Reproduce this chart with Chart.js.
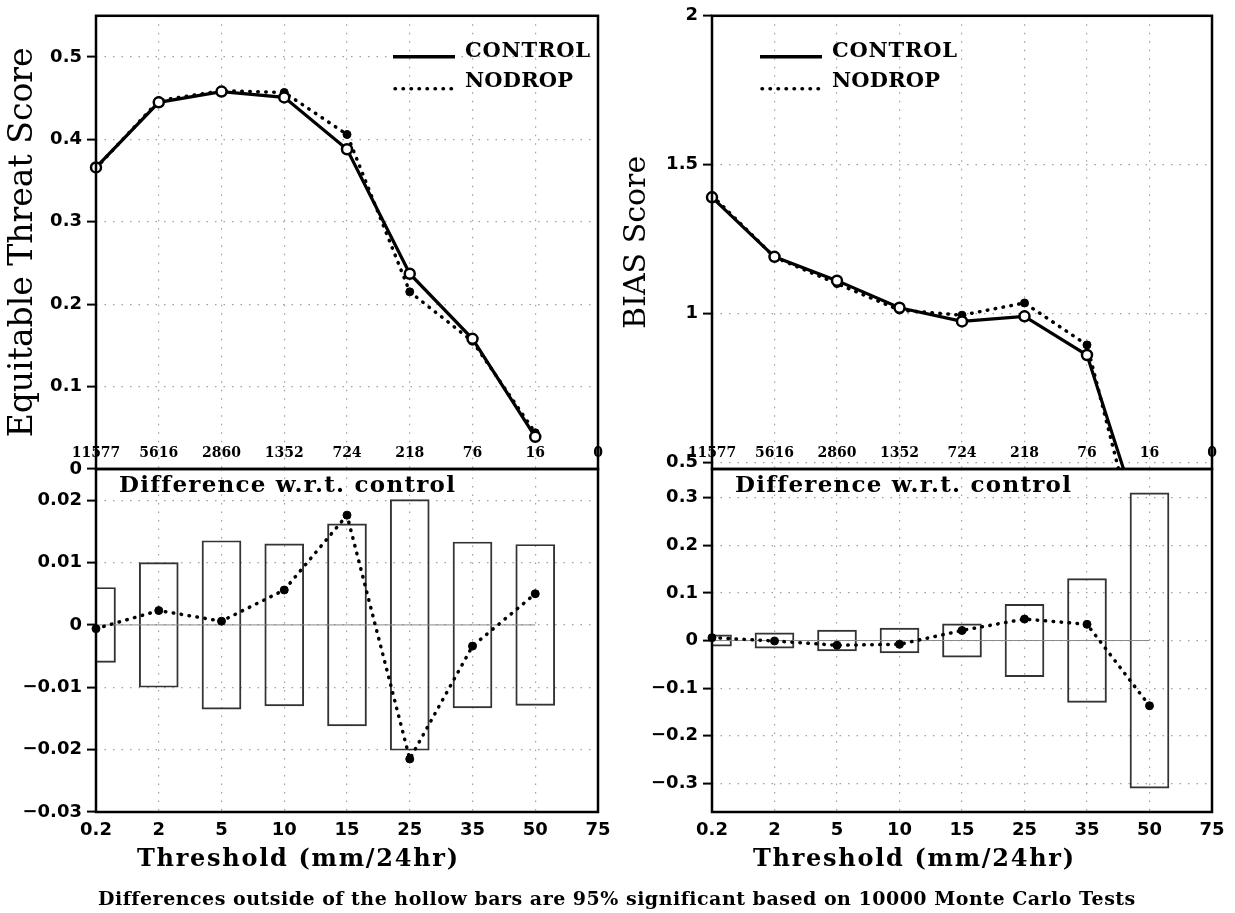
<!DOCTYPE html>
<html>
<head>
<meta charset="utf-8">
<title>ETS and BIAS: CONTROL vs NODROP</title>
<script src="https://cdn.jsdelivr.net/npm/chart.js@4"></script>
<style>
    body { margin: 0; background: #fff; }
    #page { position: relative; width: 1235px; height: 913px; overflow: hidden; background: #fff; }
    .panel { position: absolute; left: 0; top: 0; width: 1235px; height: 913px; }
    #footnote { position: absolute; left: 98px; top: 885px; font: bold 19px "DejaVu Serif"; line-height: 26px; white-space: nowrap; color: #000; }
</style>
</head>
<body>
<div id="page">
    <div class="panel"><canvas id="etsChart"></canvas></div>
    <div class="panel"><canvas id="etsDiffChart"></canvas></div>
    <div class="panel"><canvas id="biasChart"></canvas></div>
    <div class="panel"><canvas id="biasDiffChart"></canvas></div>
    <span id="footnote">Differences outside of the hollow bars are 95% significant based on 10000 Monte Carlo Tests</span>
</div>
<script>
// thresholds (mm/24hr) and number of observed points above each one
const thresholds = ['0.2', '2', '5', '10', '15', '25', '35', '50', '75'];
const obsCounts = ['11577', '5616', '2860', '1352', '724', '218', '76', '16', '0'];

// equitable threat score
const etsControl = [0.366, 0.445, 0.458, 0.451, 0.388, 0.237, 0.158, 0.039];
const etsNodrop = [0.365, 0.447, 0.459, 0.457, 0.406, 0.215, 0.155, 0.044];
const etsDiff = [-0.0006, 0.0023, 0.0006, 0.0056, 0.0176, -0.0215, -0.0034, 0.0050];
const etsSig = [0.0060, 0.0100, 0.0135, 0.0130, 0.0162, 0.0201, 0.0133, 0.0129];

// bias score
const biasControl = [1.390, 1.190, 1.110, 1.019, 0.973, 0.990, 0.860, 0.205];
const biasNodrop = [1.396, 1.189, 1.100, 1.011, 0.994, 1.035, 0.894, 0.068];
const biasDiff = [0.006, -0.001, -0.010, -0.008, 0.021, 0.045, 0.034, -0.137];
const biasSig = [0.012, 0.016, 0.022, 0.026, 0.035, 0.076, 0.130, 0.310];

const zeroLine = [0, 0, 0, 0, 0, 0, 0, 0];

const serif = '"DejaVu Serif"';
const tickFont = { family: 'DejaVu Sans', weight: 'bold', size: 18 };
const gridColor = '#a0a0a0';
const dots = [1.5, 7];

function minusSign(value) {
    return (Math.round(value * 1000) / 1000).toString().replace('-', '\u2212');
}

// draw text spread out so that it covers the given width
function spacedText(ctx, text, x, y, width, font) {
    ctx.font = font;
    ctx.letterSpacing = '0px';
    const w = ctx.measureText(text).width;
    ctx.letterSpacing = ((width - w) / (text.length - 1)) + 'px';
    ctx.textAlign = 'left';
    ctx.textBaseline = 'middle';
    ctx.fillText(text, x, y);
    ctx.letterSpacing = '0px';
}

// frame, counts, legend and labels drawn on top of each panel
const panelDecor = {
    id: 'panelDecor',
    afterDraw(chart, args, opts) {
        const { ctx, chartArea } = chart;
        const xScale = chart.scales.x;
        ctx.save();
        ctx.fillStyle = '#000';
        ctx.strokeStyle = '#000';

        ctx.lineWidth = 2.5;
        ctx.strokeRect(chartArea.left, chartArea.top, chartArea.right - chartArea.left, chartArea.bottom - chartArea.top);

        if (opts.counts) {
            ctx.font = 'bold 14px ' + serif;
            ctx.textAlign = 'center';
            ctx.textBaseline = 'middle';
            opts.counts.forEach((label, i) => {
                ctx.fillText(label, xScale.getPixelForValue(i), chartArea.bottom - 16);
            });
        }

        if (opts.legendX !== undefined) {
            const x0 = chartArea.left + opts.legendX;
            const y0 = chartArea.top;
            const sets = chart.data.datasets;
            ctx.lineWidth = 3.5;
            ctx.beginPath();
            ctx.moveTo(x0, y0 + 41);
            ctx.lineTo(x0 + 62, y0 + 41);
            ctx.stroke();
            ctx.setLineDash([0.5, 7.5]);
            ctx.lineCap = 'round';
            ctx.beginPath();
            ctx.moveTo(x0 + 2, y0 + 73);
            ctx.lineTo(x0 + 60, y0 + 73);
            ctx.stroke();
            ctx.setLineDash([]);
            ctx.lineCap = 'butt';
            spacedText(ctx, sets[0].label, x0 + 72, y0 + 36, 125, 'bold 21px ' + serif);
            spacedText(ctx, sets[1].label, x0 + 72, y0 + 66, 108, 'bold 21px ' + serif);
        }

        if (opts.note) {
            spacedText(ctx, opts.note, chartArea.left + 23, chartArea.top + 17, 335, 'bold 23px ' + serif);
        }

        if (opts.xTitle) {
            spacedText(ctx, opts.xTitle, chartArea.left + 41, chartArea.bottom + 48, 321, 'bold 24px ' + serif);
        }
        ctx.restore();
    }
};

const controlStyle = {
    borderColor: '#000',
    borderWidth: 3.2,
    pointRadius: 5,
    pointBorderWidth: 2.5,
    pointBackgroundColor: '#fff',
    pointBorderColor: '#000',
    clip: { left: 8, top: 0, right: 8, bottom: 0 }
};

const dottedStyle = {
    borderColor: '#000',
    borderWidth: 3.5,
    borderDash: [0.5, 7.5],
    borderCapStyle: 'round',
    pointRadius: 4,
    pointBorderWidth: 1,
    pointBackgroundColor: '#000',
    pointBorderColor: '#000',
    clip: { left: 8, top: 0, right: 8, bottom: 0 }
};

function xAxis(showLabels) {
    return {
        type: 'category',
        offset: false,
        grid: { color: gridColor, lineWidth: 1.2, drawTicks: false, offset: false },
        border: { display: false, dash: dots },
        ticks: { display: showLabels, font: tickFont, color: '#000', padding: 8, maxRotation: 0, autoSkip: false },
        afterFit: (scale) => { scale.height = showLabels ? 30 : 0; }
    };
}

function yAxis(min, max, step, width, title, titleSize, titlePad) {
    return {
        min: min,
        max: max,
        ticks: { stepSize: step, includeBounds: false, font: tickFont, color: '#000', padding: 5, callback: minusSign },
        grid: { color: gridColor, lineWidth: 1.2, tickLength: 9, tickWidth: 2, tickColor: '#000' },
        border: { display: false, dash: dots },
        title: {
            display: !!title,
            text: title,
            color: '#000',
            font: { family: 'DejaVu Serif', size: titleSize },
            padding: { top: titlePad, bottom: 0 }
        },
        afterFit: (scale) => { scale.width = width; }
    };
}

function scorePanel(id, control, nodrop, yScale, padding, legendX) {
    return new Chart(document.getElementById(id), {
        type: 'line',
        data: {
            labels: thresholds,
            datasets: [
                Object.assign({ label: 'CONTROL', data: control }, controlStyle),
                Object.assign({ label: 'NODROP', data: nodrop }, dottedStyle)
            ]
        },
        options: {
            animation: false,
            responsive: true,
            maintainAspectRatio: false,
            layout: { padding: padding },
            plugins: {
                legend: { display: false },
                tooltip: { enabled: false },
                panelDecor: { counts: obsCounts, legendX: legendX }
            },
            scales: { x: xAxis(false), y: yScale }
        },
        plugins: [panelDecor]
    });
}

function diffPanel(id, diff, sig, yScale, padding) {
    return new Chart(document.getElementById(id), {
        type: 'bar',
        data: {
            labels: thresholds,
            datasets: [
                Object.assign({ type: 'line', label: 'NODROP - CONTROL', data: diff }, dottedStyle),
                {
                    type: 'line',
                    label: 'zero',
                    data: zeroLine,
                    borderColor: '#8a8a8a',
                    borderWidth: 1,
                    pointRadius: 0
                },
                {
                    type: 'bar',
                    label: '95% range',
                    data: sig.map(v => [-v, v]),
                    backgroundColor: 'rgba(0, 0, 0, 0)',
                    borderColor: '#333',
                    borderWidth: 1.3,
                    borderSkipped: false,
                    barThickness: 39,
                    clip: 0
                }
            ]
        },
        options: {
            animation: false,
            responsive: true,
            maintainAspectRatio: false,
            layout: { padding: padding },
            plugins: {
                legend: { display: false },
                tooltip: { enabled: false },
                panelDecor: { note: 'Difference w.r.t. control', xTitle: 'Threshold (mm/24hr)' }
            },
            scales: { x: xAxis(true), y: yScale }
        },
        plugins: [panelDecor]
    });
}

scorePanel('etsChart', etsControl, etsNodrop,
    yAxis(0, 0.55, 0.1, 96, 'Equitable Threat Score', 33, 4),
    { left: 0, top: 13, right: 637, bottom: 444 }, 297);

diffPanel('etsDiffChart', etsDiff, etsSig,
    yAxis(-0.03, 0.025, 0.01, 96, '', 12, 0),
    { left: 0, top: 469, right: 637, bottom: 71 });

scorePanel('biasChart', biasControl, biasNodrop,
    yAxis(0.477, 2, 0.5, 97, 'BIAS Score', 30, 4),
    { left: 615, top: 13, right: 23, bottom: 444 }, 48);

diffPanel('biasDiffChart', biasDiff, biasSig,
    yAxis(-0.36, 0.36, 0.1, 97, '', 12, 0),
    { left: 615, top: 469, right: 23, bottom: 71 });

// stretch the footnote to the width it has in the figure
const footnote = document.getElementById('footnote');
const naturalWidth = footnote.getBoundingClientRect().width;
footnote.style.letterSpacing = ((1035 - naturalWidth) / (footnote.textContent.length - 1)) + 'px';
</script>
</body>
</html>
